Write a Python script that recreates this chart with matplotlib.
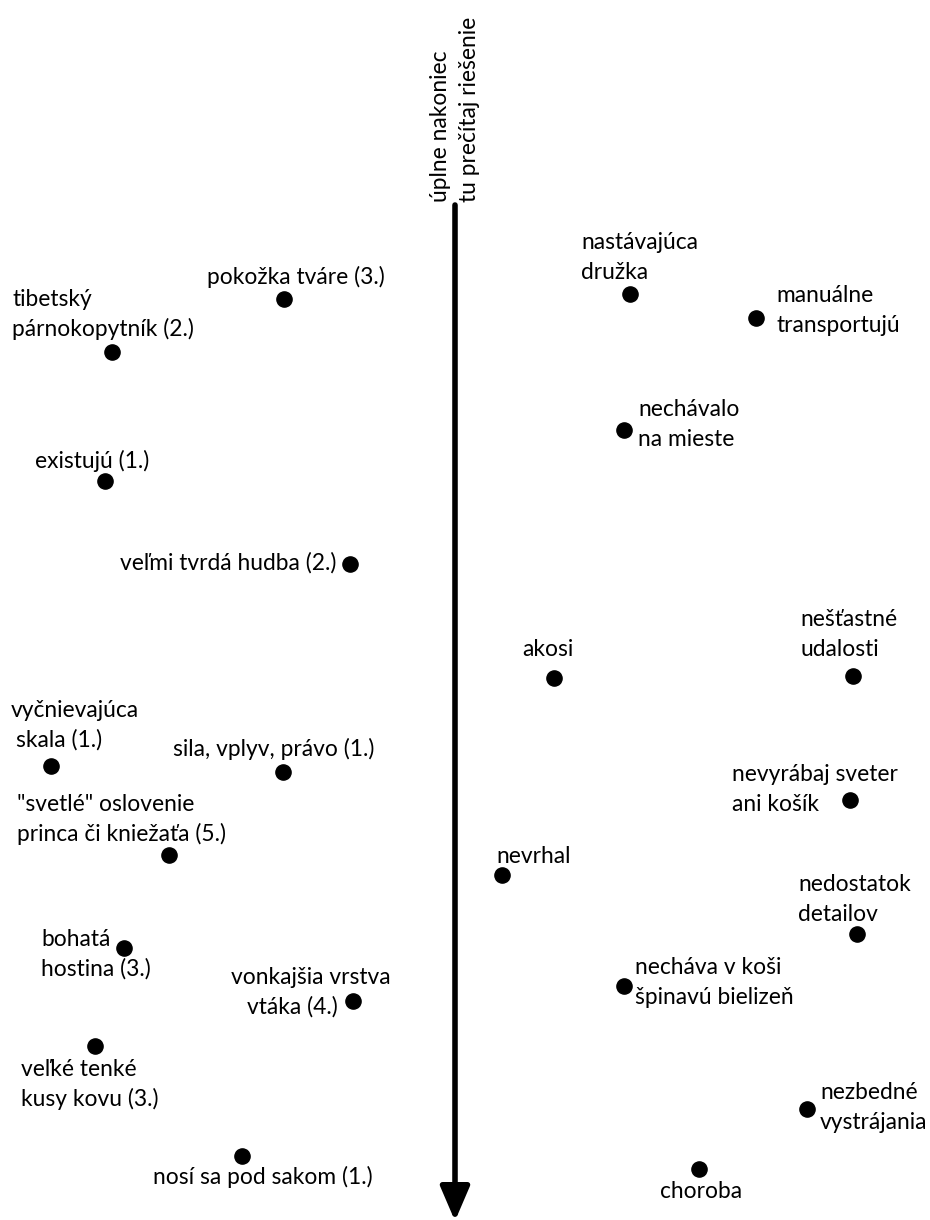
import matplotlib.pyplot as plt
import matplotlib as mpl

plt.rcParams['font.family'] = ['Lato', 'DejaVu Sans']

# dot positions (picture pixels) and their labels
dot_x = [284, 112, 105, 350, 51, 283, 169, 124, 353, 95, 242,
         630, 756, 624, 853, 554, 850, 502, 857, 624, 807, 699]
dot_y = [299, 352, 481, 564, 766, 772, 855, 948, 1001, 1046, 1156,
         294, 318, 430, 676, 678, 800, 875, 934, 986, 1109, 1169]
labels = [
    ["pokožka tváre (3.)"],
    ["tibetský", "párnokopytník (2.)"],
    ["existujú (1.)"],
    ["veľmi tvrdá hudba (2.)"],
    ["vyčnievajúca", "skala (1.)"],
    ["sila, vplyv, právo (1.)"],
    ['"svetlé" oslovenie', "princa či kniežaťa (5.)"],
    ["bohatá", "hostina (3.)"],
    ["vonkajšia vrstva", "vtáka (4.)"],
    ["veľké tenké", "kusy kovu (3.)"],
    ["nosí sa pod sakom (1.)"],
    ["nastávajúca", "družka"],
    ["manuálne", "transportujú"],
    ["nechávalo", "na mieste"],
    ["nešťastné", "udalosti"],
    ["akosi"],
    ["nevyrábaj sveter", "ani košík"],
    ["nevrhal"],
    ["nedostatok", "detailov"],
    ["necháva v koši", "špinavú bielizeň"],
    ["nezbedné", "vystrájania"],
    ["choroba"],
]
arrow_title = "úplne nakoniec\ntu prečítaj riešenie"

# where each label line sits: left x, middle y of first line, per-line indents
label_pos = [
    (207, 278, [0]), (12, 300, [0, 0]), (35, 462, [0]), (120, 564, [0]),
    (11, 711, [0, 5]), (173, 750, [0]), (17, 805, [0, 0]), (41, 940, [0, 0]),
    (231, 978, [0, 16]), (21, 1070, [0, 0]), (153, 1178, [0]),
    (581, 243, [0, 0]), (776, 296, [0, 0]), (638, 410, [0, 0]),
    (800, 620, [0, 0]), (522, 650, [0]), (732, 775, [0, 0]), (496, 857, [0]),
    (798, 885, [0, 0]), (635, 968, [0, 0]), (820, 1093, [0, 0]), (660, 1192, [0]),
]
LINE_GAP = 30
FS = 16.4

fig = plt.figure(figsize=(9.3, 12.2), dpi=100)
ax = fig.add_axes([0, 0, 1, 1])
ax.set_xlim(0, 930)
ax.set_ylim(1220, 0)
ax.axis('off')

# the arrow
ax.annotate("", xy=(455, 1221), xytext=(455, 205), annotation_clip=False,
            arrowprops=dict(arrowstyle='-|>,head_length=2.1,head_width=0.9',
                            lw=4, color='black', shrinkA=0, shrinkB=0))
ax.text(455, 202, arrow_title, rotation=90, ha='center', va='bottom',
        fontsize=FS, linespacing=1.45, multialignment='left')

ax.scatter(dot_x, dot_y, s=120, c='black', zorder=3)

for lines, (lx, ly, indent) in zip(labels, label_pos):
    for k, line in enumerate(lines):
        ax.text(lx + indent[k], ly + k * LINE_GAP + 6, line,
                fontsize=FS, ha='left', va='baseline')

plt.savefig("out.png", dpi=100)
